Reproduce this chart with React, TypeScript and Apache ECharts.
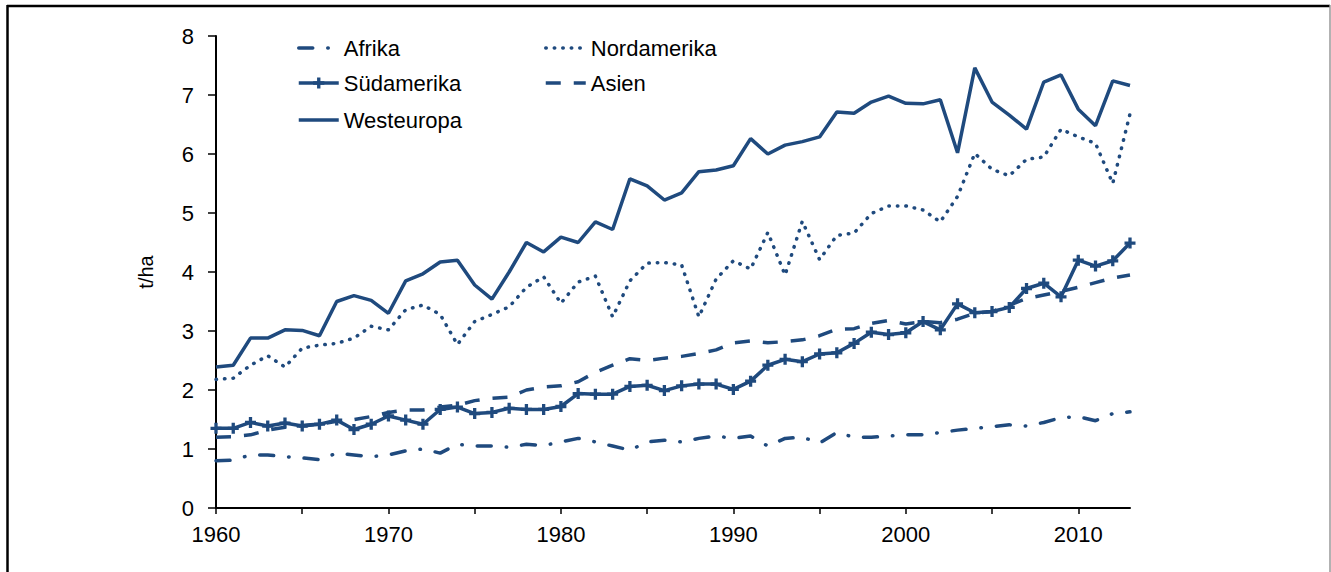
import React, { useEffect, useRef } from "react";
import * as echarts from "echarts";

const years: number[] = Array.from({ length: 54 }, (_, i) => 1960 + i);

const afrika = [
  0.80, 0.81, 0.90, 0.90, 0.87, 0.85, 0.82, 0.93, 0.90, 0.87,
  0.90, 0.97, 1.00, 0.93, 1.08, 1.05, 1.05, 1.03, 1.08, 1.06,
  1.12, 1.18, 1.12, 1.05, 0.98, 1.12, 1.15, 1.12, 1.18, 1.22,
  1.18, 1.22, 1.05, 1.18, 1.20, 1.10, 1.28, 1.20, 1.20, 1.22,
  1.24, 1.24, 1.28, 1.32, 1.35, 1.38, 1.41, 1.39, 1.45, 1.53,
  1.55, 1.48, 1.60, 1.63,
];
const nordamerika = [
  2.18, 2.20, 2.42, 2.58, 2.39, 2.71, 2.76, 2.79, 2.88, 3.08,
  3.02, 3.36, 3.44, 3.28, 2.77, 3.16, 3.28, 3.41, 3.74, 3.92,
  3.47, 3.83, 3.93, 3.24, 3.85, 4.15, 4.16, 4.12, 3.24, 3.88,
  4.19, 4.05, 4.67, 3.95, 4.86, 4.21, 4.62, 4.66, 4.99, 5.12,
  5.12, 5.05, 4.85, 5.28, 6.01, 5.74, 5.63, 5.91, 5.95, 6.42,
  6.29, 6.18, 5.50, 6.68,
];
const suedamerika = [
  1.35, 1.35, 1.45, 1.39, 1.44, 1.39, 1.42, 1.49, 1.33, 1.42,
  1.56, 1.49, 1.42, 1.67, 1.71, 1.60, 1.62, 1.69, 1.67, 1.67,
  1.72, 1.94, 1.93, 1.93, 2.06, 2.08, 1.99, 2.07, 2.10, 2.10,
  2.01, 2.15, 2.42, 2.52, 2.48, 2.61, 2.63, 2.79, 2.98, 2.94,
  2.97, 3.16, 3.02, 3.46, 3.31, 3.33, 3.40, 3.72, 3.81, 3.58,
  4.20, 4.10, 4.19, 4.49,
];
const asien = [
  1.20, 1.21, 1.24, 1.32, 1.37, 1.40, 1.42, 1.47, 1.50, 1.55,
  1.62, 1.66, 1.66, 1.71, 1.74, 1.82, 1.86, 1.88, 2.00, 2.05,
  2.07, 2.14, 2.30, 2.42, 2.53, 2.50, 2.54, 2.57, 2.62, 2.68,
  2.80, 2.83, 2.80, 2.82, 2.85, 2.92, 3.03, 3.04, 3.13, 3.18,
  3.12, 3.16, 3.14, 3.20, 3.30, 3.33, 3.44, 3.55, 3.61, 3.67,
  3.74, 3.82, 3.90, 3.95,
];
const westeuropa = [
  2.39, 2.42, 2.88, 2.88, 3.02, 3.01, 2.92, 3.50, 3.60, 3.52,
  3.30, 3.85, 3.97, 4.17, 4.20, 3.78, 3.54, 4.00, 4.50, 4.34,
  4.59, 4.50, 4.85, 4.72, 5.58, 5.46, 5.22, 5.34, 5.70, 5.73,
  5.80, 6.26, 6.00, 6.15, 6.21, 6.29, 6.71, 6.69, 6.88, 6.98,
  6.86, 6.85, 6.92, 6.02, 7.46, 6.88, 6.66, 6.42, 7.22, 7.34,
  6.76, 6.48, 7.24, 7.16,
];

const xTickValues = [1960, 1965, 1970, 1975, 1980, 1985, 1990, 1995, 2000, 2005, 2010];
const xLabelValues = [1960, 1970, 1980, 1990, 2000, 2010];

const COLOR = "#1F4A7E";
const FONT = "'Liberation Sans', Arial, sans-serif";
const PLUS = "path://M3.5,0H6.5V3.5H10V6.5H6.5V10H3.5V6.5H0V3.5H3.5Z";

const toPairs = (vals: number[]) => years.map((y, i) => [y, vals[i]]);

export default function App() {
  const ref = useRef<HTMLDivElement>(null);
  useEffect(() => {
    if (!ref.current) return;
    const chart = echarts.init(ref.current, undefined, { renderer: "svg" });
    const legendBase = {
      orient: "vertical" as const,
      padding: 0,
      itemWidth: 40,
      itemHeight: 14,
      lineStyle: { width: 3.5 },
      textStyle: { fontFamily: FONT, fontSize: 22, color: "#000", lineHeight: 22 },
      selectedMode: false,
    };
    const noSymbol = { itemStyle: { opacity: 0 } };
    const lineBase = {
      type: "line" as const,
      symbol: "none",
      color: COLOR,
      silent: true,
    };
    chart.setOption({
      animation: false,
      backgroundColor: "#fff",
      grid: { left: 216, top: 36, width: 914, height: 472, containLabel: false },
      legend: [
        { ...legendBase, ...noSymbol, data: ["Afrika"], left: 297, top: 37 },
        { ...legendBase, data: ["Südamerika"], left: 297, top: 72 },
        { ...legendBase, ...noSymbol, data: ["Westeuropa"], left: 297, top: 109 },
        { ...legendBase, ...noSymbol, data: ["Nordamerika"], left: 544, top: 37 },
        { ...legendBase, ...noSymbol, data: ["Asien"], left: 544, top: 72 },
      ],
      xAxis: {
        type: "value",
        min: 1960,
        max: 2013,
        interval: 5,
        splitLine: { show: false },
        axisLine: { onZero: false, lineStyle: { color: "#000", width: 2 } },
        axisTick: {
          show: true,
          length: 6,
          customValues: xTickValues,
          lineStyle: { color: "#000", width: 1.5 },
        },
        axisLabel: {
          customValues: xLabelValues,
          formatter: (v: number) => String(v),
          color: "#000",
          fontFamily: FONT,
          fontSize: 22,
          lineHeight: 22,
          margin: 15,
        },
      },
      yAxis: {
        type: "value",
        min: 0,
        max: 8,
        interval: 1,
        name: "t/ha",
        nameLocation: "middle",
        nameGap: 60,
        nameRotate: 90,
        nameTextStyle: { fontFamily: FONT, fontSize: 20, color: "#000" },
        splitLine: { show: false },
        axisLine: { show: true, lineStyle: { color: "#000", width: 2 } },
        axisTick: { show: true, length: 8, lineStyle: { color: "#000", width: 1.5 } },
        axisLabel: {
          color: "#000",
          fontFamily: FONT,
          fontSize: 22,
          margin: 22,
        },
      },
      graphic: [
        { type: "line", shape: { x1: 7, y1: 6, x2: 1330, y2: 6 }, style: { stroke: "#000", lineWidth: 2.5 } },
        { type: "line", shape: { x1: 7.5, y1: 5, x2: 7.5, y2: 572 }, style: { stroke: "#000", lineWidth: 2.5 } },
        { type: "line", shape: { x1: 1330, y1: 5, x2: 1330, y2: 572 }, style: { stroke: "#999", lineWidth: 1.5 } },
      ],
      series: [
        {
          ...lineBase,
          name: "Afrika",
          data: toPairs(afrika),
          lineStyle: { width: 3.5, type: [14, 15, 0.5, 15], cap: "round", color: COLOR },
        },
        {
          ...lineBase,
          name: "Nordamerika",
          data: toPairs(nordamerika),
          lineStyle: { width: 3.5, type: [0.5, 8], cap: "round", color: COLOR },
        },
        {
          ...lineBase,
          name: "Südamerika",
          data: toPairs(suedamerika),
          symbol: PLUS,
          symbolSize: 11,
          showSymbol: true,
          itemStyle: { color: COLOR },
          lineStyle: { width: 3.5, type: "solid", color: COLOR },
        },
        {
          ...lineBase,
          name: "Asien",
          data: toPairs(asien),
          lineStyle: { width: 3.5, type: [15, 13], color: COLOR },
        },
        {
          ...lineBase,
          name: "Westeuropa",
          data: toPairs(westeuropa),
          lineStyle: { width: 3.5, type: "solid", color: COLOR },
        },
      ],
    });
    return () => chart.dispose();
  }, []);
  return (
    <div
      ref={ref}
      style={{ position: "fixed", left: 0, top: 0, width: 1331, height: 572, background: "#fff" }}
    />
  );
}
